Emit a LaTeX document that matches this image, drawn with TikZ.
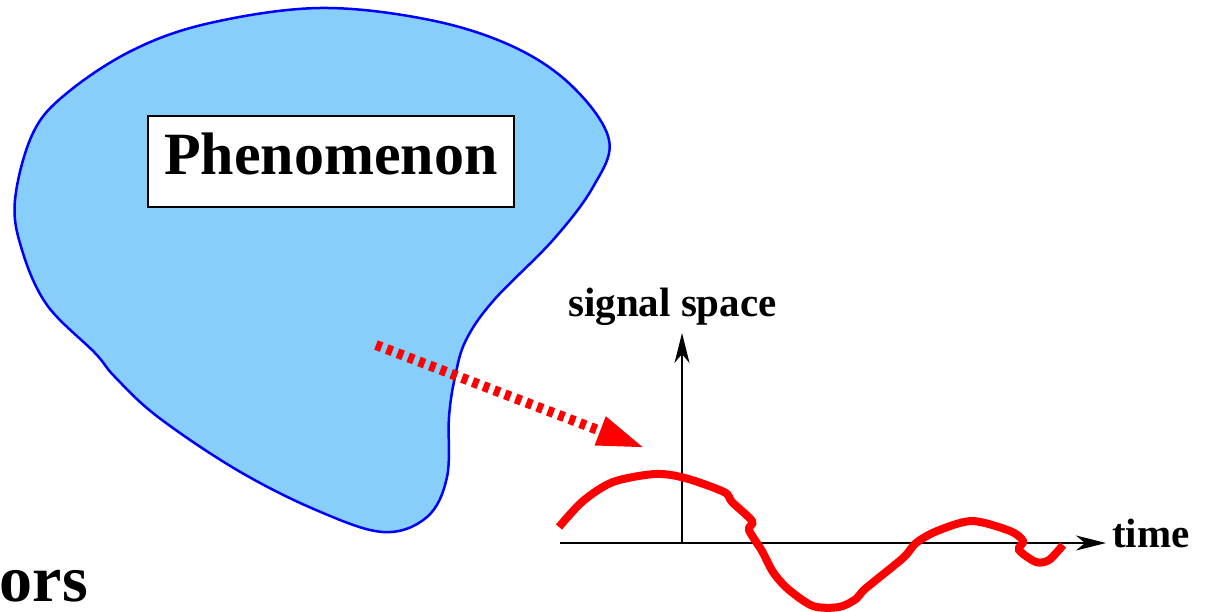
\documentclass[tikz,border=0pt]{standalone}
\usepackage{fontspec}
\setmainfont{Liberation Serif}
\usetikzlibrary{arrows.meta}
\definecolor{skyfill}{RGB}{135,206,250}
\begin{document}
\begin{tikzpicture}[x=1pt,y=-1pt,every node/.style={inner sep=0pt},
  axis/.style={line width=1.3pt,-{Stealth[length=30pt,width=15pt,inset=9pt]}},
  signal/.style={red,line width=8pt},
  label/.style={font=\fontsize{41}{41}\selectfont\bfseries}]
\useasboundingbox (0,0) rectangle (1209,611);

\draw[blue,line width=2.5pt,fill=skyfill]
plot[smooth cycle,tension=0.6] coordinates {
(320,8) (430,20) (514,47) (573,87) (609,140) (593,187) (553,240)
(494,300) (466,340) (455,377) (449,417) (447,477) (427,517) (383,532)
(316,510) (237,470) (158,417) (115,377) (95,353) (47,305) (22,250)
(15,200) (33,133) (67,93) (133,50) (210,23)};

\node[draw,fill=white,line width=1.2pt,minimum width=366pt,minimum height=91pt,
  text depth=16pt,font=\fontsize{60}{60}\selectfont\bfseries]
(pheno) at (331,161.5) {Phenomenon};

\coordinate (O) at (682,543);
\coordinate (tstart) at (560,543);
\coordinate (tend) at (1106,543);
\coordinate (send) at (682,333);
\draw[axis] (tstart) -- (tend);
\draw[axis] (O) -- (send);

\node[label,anchor=base west] (slabel) at (568,316) {signal space};
\node[label,anchor=base west] (tlabel) at (1112,547) {time};

\coordinate (probe) at (376,345);
\coordinate (hit) at (645,448);
\draw[red,line width=10pt,dash pattern=on 6pt off 5.5pt,
  -{Triangle[length=48pt,width=28pt]}] (probe) -- (hit);

\draw[signal] plot[smooth,tension=0.5] coordinates {
(559,527) (583,501) (613,482) (655,474) (685,478) (724,492) (732,502)
(752,521) (749,530) (762,551) (773,572) (788,589) (813,606) (839,607)
(856,599) (865,589) (903,558) (916,543) (937,531) (972,521) (1010,531)
(1023,541) (1019,550) (1036,562) (1049,560) (1063,545)};

\node[anchor=base east,font=\fontsize{66}{66}\selectfont\bfseries]
(ors) at (88,601) {ors};

\end{tikzpicture}
\end{document}
